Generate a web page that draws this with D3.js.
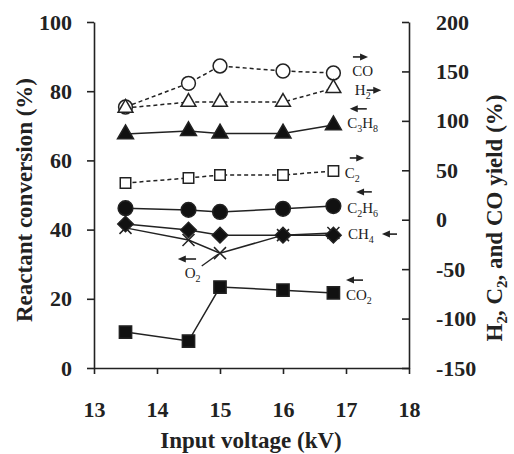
<!DOCTYPE html>
<meta charset="utf-8">
<style>
body { margin: 0; background: #fff; }
svg { font-family: "Liberation Serif", "Times New Roman", serif; }
.axis path, .axis line { stroke: #222; stroke-width: 1.6; }
.title { font-size: 23px; font-weight: bold; fill: #222; }
.lbl { font-size: 15px; fill: #222; }
</style>
<body>
<script src="https://cdn.jsdelivr.net/npm/d3@7"></script>
<script>
// input voltage (kV)
var voltage = [13.5, 14.5, 15, 16, 16.8];

// reactant conversion (%) - left axis
var c3h8 = [67.6, 68.5, 67.8, 67.8, 70.2];
var c2h6 = [46.2, 45.7, 45.1, 46.0, 46.8];
var ch4  = [41.6, 39.9, 38.4, 38.4, 38.4];
var o2   = [40.5, 37.0, 33.2, 38.4, 39.0];
var co2  = [10.4, 7.8, 23.4, 22.5, 21.7];

// product yield (%) - right axis
var coYield = [114, 138, 155.5, 150.4, 148.4];
var h2Yield = [113, 119, 119, 119, 133];
var c2Yield = [37.1, 42.2, 45.2, 45.2, 49.3];

var xTicks = [13, 14, 15, 16, 17, 18];
var leftTicks = [0, 20, 40, 60, 80, 100];
var rightTicks = [-150, -100, -50, 0, 50, 100, 150, 200];

var W = 514, H = 454;
var x = d3.scaleLinear().domain([13, 18]).range([94, 409]);
var yL = d3.scaleLinear().domain([0, 100]).range([368, 22]);
var yR = d3.scaleLinear().domain([-150, 200]).range([368, 22]);

var svg = d3.select("body").append("svg").attr("width", W).attr("height", H);

var fmt = function(d) { return String(d); };

// axes
svg.append("g").attr("class", "axis")
    .attr("transform", "translate(0,368)")
    .call(d3.axisBottom(x).tickValues(xTicks).tickFormat(fmt).tickSizeInner(6).tickSizeOuter(0).tickPadding(27));
svg.append("g").attr("class", "axis")
    .attr("transform", "translate(94,0)")
    .call(d3.axisLeft(yL).tickValues(leftTicks).tickFormat(fmt).tickSizeInner(7).tickSizeOuter(0).tickPadding(15));
svg.append("g").attr("class", "axis")
    .attr("transform", "translate(409,0)")
    .call(d3.axisRight(yR).tickValues(rightTicks).tickFormat(fmt).tickSizeInner(-7).tickSizeOuter(0).tickPadding(27));
svg.selectAll(".axis")
    .attr("font-family", "Liberation Serif, serif")
    .attr("font-size", 22)
    .attr("font-weight", "bold");
svg.selectAll(".axis text").attr("fill", "#222");

// axis titles
svg.append("text").attr("class", "title")
    .attr("transform", "translate(32,200) rotate(-90)")
    .attr("text-anchor", "middle")
    .text("Reactant conversion (%)");

var rt = svg.append("text").attr("class", "title")
    .attr("transform", "translate(502,218) rotate(-90)")
    .attr("text-anchor", "middle");
rt.append("tspan").text("H");
rt.append("tspan").attr("font-size", 15).attr("dy", 5).text("2");
rt.append("tspan").attr("dy", -5).text(", C");
rt.append("tspan").attr("font-size", 15).attr("dy", 5).text("2");
rt.append("tspan").attr("dy", -5).text(", and CO yield (%)");

svg.append("text").attr("class", "title")
    .attr("x", 251).attr("y", 448)
    .attr("text-anchor", "middle")
    .text("Input voltage (kV)");

// series
var series = [
  {name: "CO",   vals: coYield, axis: yR, dash: "4,3", sym: "circle",   fill: "#fff", size: 150},
  {name: "H2",   vals: h2Yield, axis: yR, dash: "4,3", sym: "triangle", fill: "#fff", size: 95},
  {name: "C3H8", vals: c3h8,    axis: yL, dash: null,  sym: "triangle", fill: "#111", size: 110},
  {name: "C2",   vals: c2Yield, axis: yR, dash: "4,3", sym: "square",   fill: "#fff", size: 110},
  {name: "C2H6", vals: c2h6,    axis: yL, dash: null,  sym: "circle",   fill: "#111", size: 170},
  {name: "O2",   vals: o2,      axis: yL, dash: null,  sym: "x",        fill: "none", size: 0},
  {name: "CH4",  vals: ch4,     axis: yL, dash: null,  sym: "diamond",  fill: "#111", size: 120},
  {name: "CO2",  vals: co2,     axis: yL, dash: null,  sym: "square",   fill: "#111", size: 150}
];

var symType = {circle: d3.symbolCircle, triangle: d3.symbolTriangle, square: d3.symbolSquare, diamond: d3.symbolSquare};

series.forEach(function(s) {
  var pts = s.vals.map(function(v, i) { return [x(voltage[i]), s.axis(v)]; });
  svg.append("path")
      .attr("d", d3.line()(pts))
      .attr("fill", "none")
      .attr("stroke", "#222")
      .attr("stroke-width", 1.5)
      .attr("stroke-dasharray", s.dash);
  var g = svg.append("g");
  pts.forEach(function(p) {
    if (s.sym === "x") {
      var r = 6;
      g.append("path")
          .attr("d", "M" + (p[0]-r) + "," + (p[1]-r) + "L" + (p[0]+r) + "," + (p[1]+r) +
                     "M" + (p[0]-r) + "," + (p[1]+r) + "L" + (p[0]+r) + "," + (p[1]-r))
          .attr("stroke", "#222").attr("stroke-width", 1.5);
    } else {
      g.append("path")
          .attr("d", d3.symbol().type(symType[s.sym]).size(s.size)())
          .attr("transform", "translate(" + p[0] + "," + p[1] + ")" + (s.sym === "diamond" ? " rotate(45)" : ""))
          .attr("fill", s.fill)
          .attr("stroke", "#222")
          .attr("stroke-width", 1.5);
    }
  });
});

// labels: [text parts (normal, subscript, ...), x (kV), y (% left)]
var labels = [
  [["CO", ""], 17.10, 85.8],
  [["H", "2"], 17.14, 80.3],
  [["C", "3", "H", "8"], 17.02, 70.8],
  [["C", "2"], 16.98, 56.4],
  [["C", "2", "H", "6"], 17.02, 46.2],
  [["CH", "4"], 17.03, 38.7],
  [["O", "2"], 14.44, 27.5],
  [["CO", "2"], 17.0, 21.1]
];
labels.forEach(function(l) {
  var t = svg.append("text").attr("class", "lbl")
      .attr("x", x(l[1])).attr("y", yL(l[2]) + 5);
  var parts = l[0];
  for (var i = 0; i < parts.length; i++) {
    if (!parts[i]) continue;
    if (i % 2 === 0) t.append("tspan").attr("dy", i === 0 ? 0 : -4).text(parts[i]);
    else t.append("tspan").attr("font-size", 10).attr("dy", 4).text(parts[i]);
  }
});

// arrows: [x1, x2 (kV), y (% left)] ; pointing from x1 to x2
var arrows = [
  [17.11, 17.35, 89.9],
  [17.33, 17.56, 80.3],
  [17.33, 17.06, 74.9],
  [17.06, 17.29, 60.7],
  [17.41, 17.16, 50.9],
  [17.81, 17.57, 38.7],
  [14.62, 14.33, 31.5],
  [17.27, 17.0, 25.4]
];
arrows.forEach(function(a) {
  var x1 = x(a[0]), x2 = x(a[1]), y = yL(a[2]);
  var d = x2 > x1 ? 1 : -1;
  svg.append("line")
      .attr("x1", x1).attr("x2", x2 - d * 6).attr("y1", y).attr("y2", y)
      .attr("stroke", "#222").attr("stroke-width", 1.6);
  svg.append("path")
      .attr("d", "M" + x2 + "," + y + "L" + (x2 - d * 8) + "," + (y - 3.5) + "L" + (x2 - d * 8) + "," + (y + 3.5) + "Z")
      .attr("fill", "#222");
});

// O2 leader line
svg.append("line")
    .attr("x1", x(14.71)).attr("y1", yL(29.5))
    .attr("x2", x(14.97)).attr("y2", yL(32.9))
    .attr("stroke", "#222").attr("stroke-width", 1.3);
</script>
</body>
